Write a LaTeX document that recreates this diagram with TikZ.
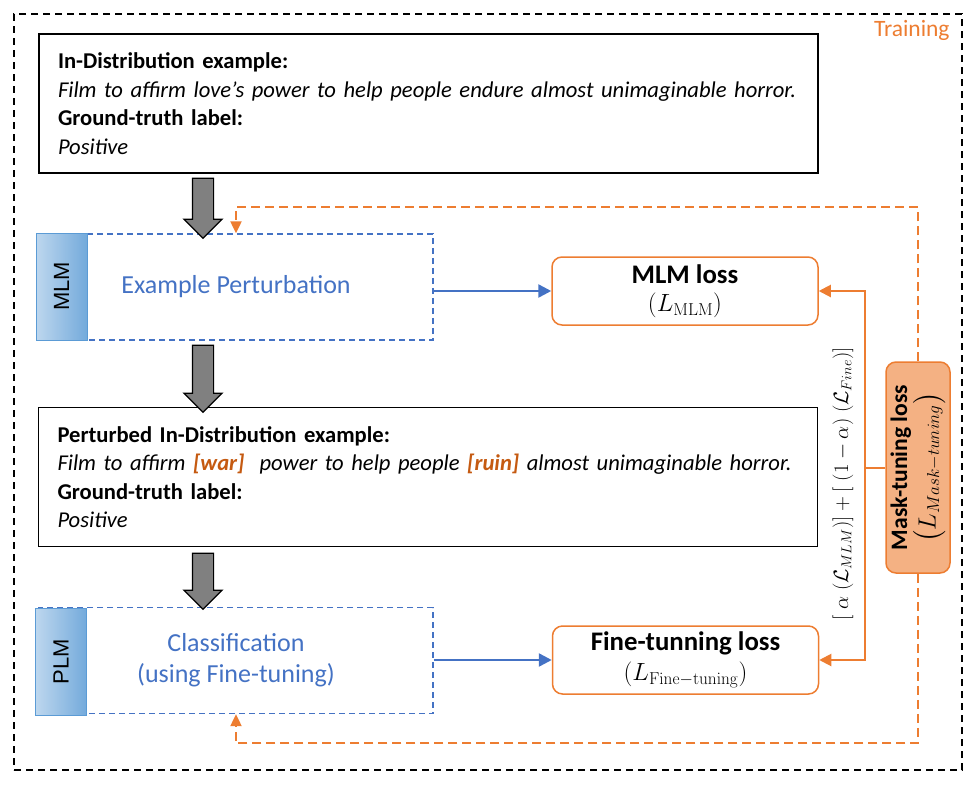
\documentclass[tikz,border=0pt]{standalone}
\usepackage{amsmath}
\usepackage{amssymb}
\usepackage[no-math]{fontspec}
\setmainfont{Carlito}
\newfontfamily\sidefont{Liberation Sans}
\usetikzlibrary{positioning,shapes.arrows,arrows.meta}

\definecolor{mblue}{HTML}{4472C4}
\definecolor{morange}{HTML}{ED7D31}
\definecolor{dorange}{HTML}{C55A11}
\definecolor{lorange}{HTML}{F4B183}
\definecolor{sideblue}{HTML}{5B9BD5}

\tikzset{
  examplebox/.style={draw, line width=1.5pt, text width=741pt, inner xsep=19pt,
    minimum height=139pt, align=left, font=\fontsize{22.6}{28.5}\selectfont},
  stagebox/.style={draw=mblue, line width=1.3pt, dash pattern=on 6pt off 4pt,
    minimum width=394pt, minimum height=106pt, text=mblue, align=center,
    font=\fontsize{26}{31}\selectfont},
  sidebox/.style={draw=sideblue, line width=1pt, left color=sideblue!40, right color=sideblue!85,
    minimum width=107pt, minimum height=51pt, rotate=90,
    font=\sidefont\fontsize{22}{24}\selectfont},
  lossbox/.style={draw=morange, line width=1.5pt, rounded corners=10pt,
    minimum width=266pt, minimum height=68pt, align=center,
    font=\fontsize{26.8}{32}\selectfont},
  grayarrow/.style={single arrow, draw, fill=gray, line width=1.2pt, inner sep=10pt,
    minimum width=37pt, single arrow head extend=8.5pt, shape border rotate=270},
  bluearrow/.style={draw=mblue, line width=2.5pt, -{Triangle[length=13pt,width=13pt]}},
  orangearrow/.style={draw=morange, line width=2pt, -{Triangle[length=12pt,width=12pt]}},
  orangedash/.style={draw=morange, line width=2pt, dash pattern=on 9pt off 5pt,
    -{Triangle[length=12pt,width=11pt]}}
}

\begin{document}
\begin{tikzpicture}[x=1pt, y=-1pt]
        \useasboundingbox (0,0) rectangle (975,790);

        % Training frame
        \node[draw, line width=1.5pt, dash pattern=on 7pt off 5pt, minimum width=948pt,
          minimum height=756pt] (train) at (488,392) {};
        \node[text=morange, font=\fontsize{23.5}{26}\selectfont, anchor=north east, inner sep=0pt]
          (trainlabel) at ([xshift=-13pt, yshift=-7pt]train.north east) {Training};

        % Examples
        \node[examplebox] (orig) at (428.5,103.5) {\textbf{In-Distribution example:}\\
          \textit{Film to affirm love’s power to help people endure almost unimaginable horror.}\\
          \textbf{Ground-truth label:}\\
          \textit{Positive}};
        \node[examplebox] (pertex) at (428,477) {\textbf{Perturbed In-Distribution example:}\\
          \textit{Film to affirm \textcolor{dorange}{\textbf{[war]}}\ \ power to help people \textcolor{dorange}{\textbf{[ruin]}} almost unimaginable horror.}\\
          \textbf{Ground-truth label:}\\
          \textit{Positive}};

        % Stages
        \node[stagebox] (perturb) at (236,287) {Example Perturbation};
        \node[sidebox] (mlm) at (61.5,286.5) {MLM};
        \node[stagebox] (classify) at (236,660.5) {Classification\\(using Fine-tuning)};
        \node[sidebox] (plm) at (61,662) {PLM};

        % Gray arrows
        \node[grayarrow, minimum height=60pt] (arrowa) at (203,203) {};
        \node[grayarrow, minimum height=67pt] (arrowb) at (203,373.5) {};
        \node[grayarrow, minimum height=56pt] (arrowc) at (203,576) {};

        % Losses
        \node[lossbox] (mlmloss) at (685,291) {\textbf{MLM loss}\\[-4pt]{\fontsize{25}{30}\selectfont$(L_{\mathrm{MLM}})$}};
        \node[lossbox] (fineloss) at (685.5,660) {\textbf{Fine-tunning loss}\\[-2pt]{\fontsize{25}{30}\selectfont$(L_{\mathrm{Fine-tuning}})$}};
        \node[draw=morange, fill=lorange, line width=1.5pt, rounded corners=10pt,
          minimum width=211pt, minimum height=64pt, rotate=90, align=center,
          font=\fontsize{23.6}{26}\selectfont] (masktune) at (918,467.5)
          {\textbf{Mask-tuning loss}\\[1pt]{\fontsize{27}{30}\selectfont$\bigl(L_{Mask-tuning}\bigr)$}};
        \node[rotate=90, font=\fontsize{21}{24}\selectfont] (combo) at (843,484)
          {$[\;\alpha\;(\mathcal{L}_{MLM})] + [\;(1-\alpha)\;(\mathcal{L}_{Fine})]$};

        % Edges
        \draw[bluearrow] (perturb.east |- mlmloss) -- (mlmloss.west);
        \draw[bluearrow] (classify.east |- fineloss) -- (fineloss.west);
        \draw[orangearrow] (masktune.north) -- ++(-20,0) coordinate (split) |- (mlmloss.east);
        \draw[orangearrow] (split) |- (fineloss.east);
        \draw[orangedash] (masktune.east) |- ([yshift=26pt]perturb.north) -- (perturb.north);
        \draw[orangedash] (masktune.west) |- ([yshift=-29pt]classify.south) -- (classify.south);
        \end{tikzpicture}
\end{document}
